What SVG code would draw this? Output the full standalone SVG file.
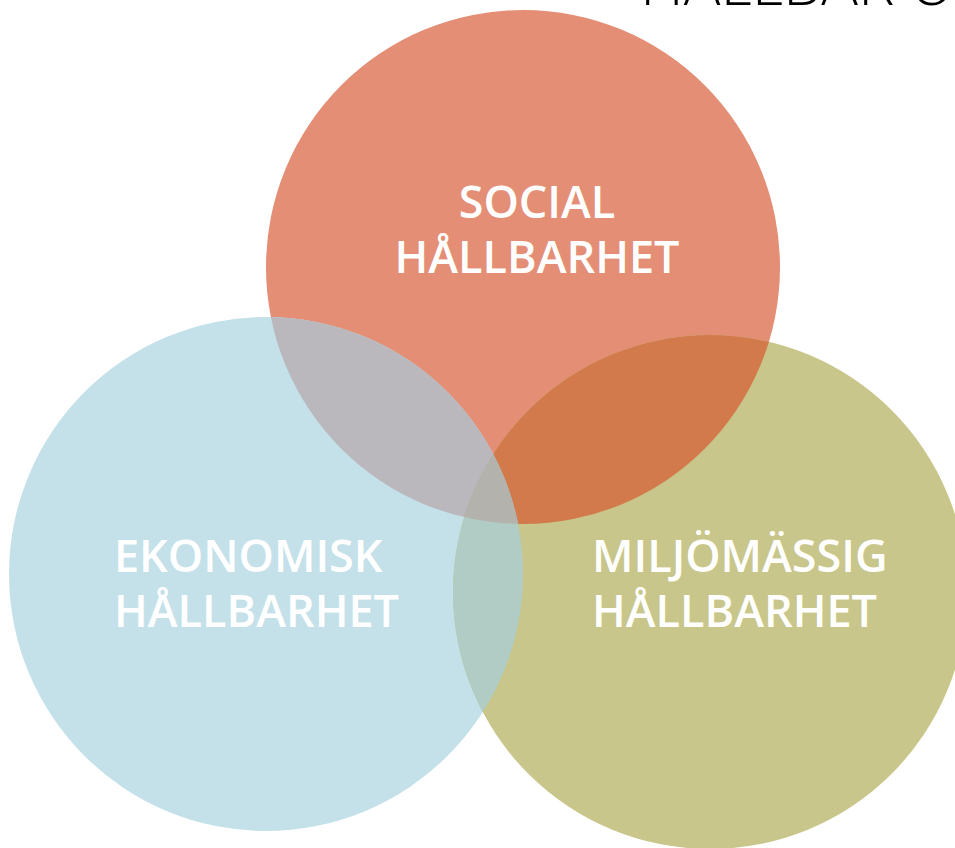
<svg xmlns="http://www.w3.org/2000/svg" width="955" height="848" viewBox="0 0 955 848">
<style>
.lbl{font-family:"Open Sans","Noto Sans",sans-serif;font-weight:600;font-size:45px;fill:#ffffff}
.ttl{font-family:"Open Sans","Noto Sans",sans-serif;font-weight:300;font-size:61px;fill:#000000}
</style>
<defs>
<clipPath id="cR"><circle cx="523" cy="267" r="257"/></clipPath>
<clipPath id="cB"><circle cx="266" cy="574" r="257"/></clipPath>
<clipPath id="cG"><circle cx="710" cy="592" r="257"/></clipPath>
</defs>
<rect width="955" height="848" fill="#ffffff"/>
<text class="ttl" x="640" y="5">HÅLLBAR UTVECKLING</text>
<g id="social"><circle cx="523" cy="267" r="257" fill="#e38e75"/></g>
<g id="ekonomisk"><circle cx="266" cy="574" r="257" fill="#c4e1ea"/></g>
<g id="miljo"><circle cx="710" cy="592" r="257" fill="#c8c68a"/></g>
<g id="overlaps">
<g clip-path="url(#cR)"><circle cx="266" cy="574" r="257" fill="#bab8bc"/><circle cx="710" cy="592" r="257" fill="#d27a4c"/></g>
<g clip-path="url(#cB)"><circle cx="710" cy="592" r="257" fill="#b0ccc4"/></g>
<g clip-path="url(#cB)"><g clip-path="url(#cR)"><circle cx="710" cy="592" r="257" fill="#b3b2ad"/></g></g>
</g>
<g id="labels">
<text class="lbl" x="537" y="218" text-anchor="middle">SOCIAL</text>
<text class="lbl" x="537" y="273" text-anchor="middle">HÅLLBARHET</text>
<text class="lbl" x="114" y="572">EKONOMISK</text>
<text class="lbl" x="114" y="627">HÅLLBARHET</text>
<text class="lbl" x="592" y="572">MILJÖMÄSSIG</text>
<text class="lbl" x="592" y="627">HÅLLBARHET</text>
</g>
</svg>
